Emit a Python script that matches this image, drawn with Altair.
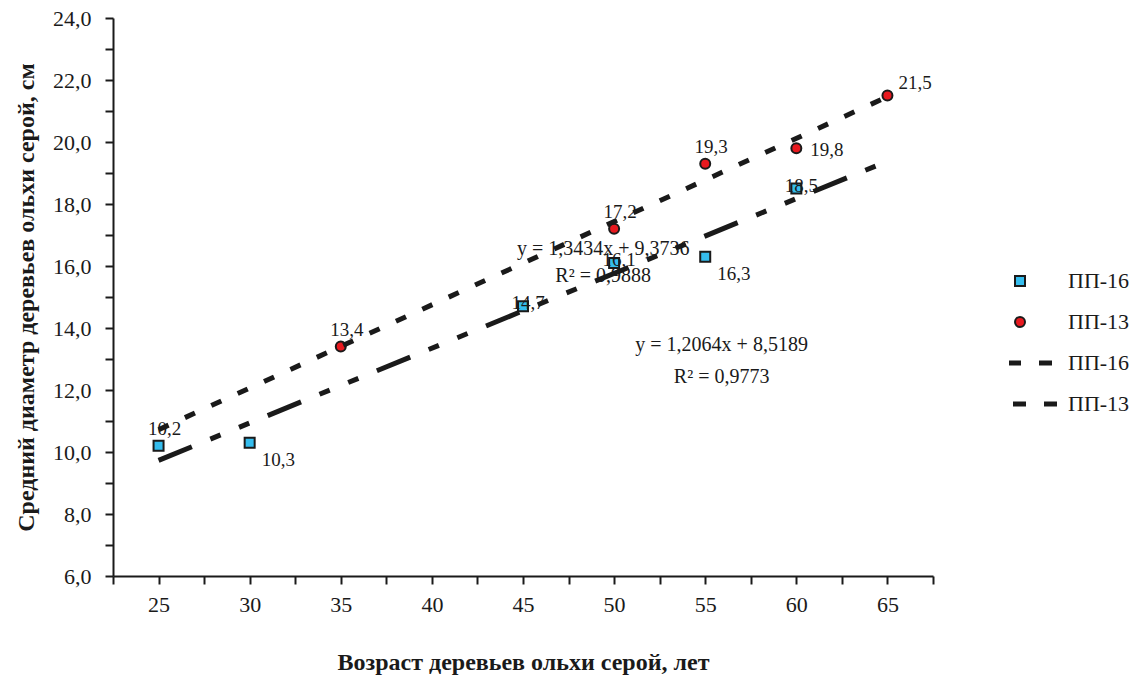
import altair as alt
import pandas as pd

# ---------------- data ----------------
age_16 = [25, 30, 45, 50, 55, 60]
diam_16 = [10.2, 10.3, 14.7, 16.1, 16.3, 18.5]
place_16 = ["above", "below_right", "on", "on", "below_right", "on"]

age_13 = [35, 50, 55, 60, 65]
diam_13 = [13.4, 17.2, 19.3, 19.8, 21.5]
place_13 = ["above", "above", "above", "right", "above_right"]

trend_age = [25, 65]
trend_16 = [9.73, 19.38]
trend_13 = [10.72, 21.46]

eq_text = ["y = 1,3434x + 9,3736", "R² = 0,9888", "y = 1,2064x + 8,5189", "R² = 0,9773"]
eq_age = [49.4, 49.4, 55.9, 55.9]
eq_diam = [16.55, 15.68, 13.45, 12.42]

x_ticks = [22.5, 25, 27.5, 30, 32.5, 35, 37.5, 40, 42.5, 45, 47.5, 50,
           52.5, 55, 57.5, 60, 62.5, 65, 67.5]
y_ticks = [6, 7, 8, 9, 10, 11, 12, 13, 14, 15, 16, 17, 18, 19, 20, 21, 22, 23, 24]

legend_names = ["ПП-16", "ПП-13", "ПП-16 ", "ПП-13 "]

# ---------------- tables ----------------
def lab(v):
    return f"{v:.1f}".replace(".", ",")

pts = pd.DataFrame(
    {"age": age_16, "diam": diam_16, "series": legend_names[0], "place": place_16,
     "label": [lab(v) for v in diam_16]}
)
pts = pd.concat([pts, pd.DataFrame(
    {"age": age_13, "diam": diam_13, "series": legend_names[1], "place": place_13,
     "label": [lab(v) for v in diam_13]}
)], ignore_index=True)

tr16 = pd.DataFrame({"age": trend_age, "diam": trend_16})
tr13 = pd.DataFrame({"age": trend_age, "diam": trend_13})
eqs = pd.DataFrame({"age": eq_age, "diam": eq_diam, "text": eq_text})

FONT = "Liberation Serif"
INK = "#1a1a1a"

# legend line symbols as custom paths (symbol size 100 -> 1 unit = 5 px)
path_16 = ("M-7.2,-0.3H0V0.3H-7.2Z "
           "M4.0,-0.3H6.2V0.3H4.0Z")
path_13 = ("M-7.2,-0.3H-5.0V0.3H-7.2Z "
           "M-1.2,-0.3H1.0V0.3H-1.2Z "
           "M5.0,-0.3H7.2V0.3H5.0Z")

x_axis = alt.Axis(
    values=x_ticks, labelExpr="datum.value % 5 == 0 ? datum.value : ''",
    title="Возраст деревьев ольхи серой, лет", grid=False,
    tickSize=8, tickWidth=2, domainWidth=2, domainColor=INK, tickColor=INK,
    labelFont=FONT, labelFontSize=22, labelColor=INK, labelPadding=10,
    labelOverlap=False, labelFlush=False,
    titleFont=FONT, titleFontSize=24, titleFontWeight="bold", titleColor=INK,
    titlePadding=35,
)
y_axis = alt.Axis(
    values=y_ticks,
    labelExpr="datum.value % 2 == 0 ? replace(format(datum.value, '.1f'), '.', ',') : ''",
    title="Средний диаметр деревьев ольхи серой, см", grid=False,
    tickSize=8, tickWidth=2, domainWidth=2, domainColor=INK, tickColor=INK,
    labelFont=FONT, labelFontSize=22, labelColor=INK, labelPadding=14,
    labelOverlap=False, labelFlush=False,
    titleFont=FONT, titleFontSize=24, titleFontWeight="bold", titleColor=INK,
    titlePadding=14,
)

X = alt.X("age:Q", scale=alt.Scale(domain=[22.5, 67.5], nice=False, zero=False), axis=x_axis)
Y = alt.Y("diam:Q", scale=alt.Scale(domain=[6, 24], nice=False, zero=False), axis=y_axis)

leg = alt.Legend(
    title=None, orient="none", legendX=896, legendY=253, padding=0,
    clipHeight=20, rowPadding=19, labelOffset=37, symbolSize=100,
    labelFont=FONT, labelFontSize=22, labelColor=INK,
    symbolStrokeColor=INK, symbolStrokeWidth=2,
)

points = alt.Chart(pts).mark_point(filled=True, opacity=1, strokeWidth=2,
                                   size=100).encode(
    x=X, y=Y,
    shape=alt.Shape("series:N", scale=alt.Scale(domain=legend_names,
                    range=["square", "circle", path_16, path_13]), legend=leg),
    fill=alt.Fill("series:N", scale=alt.Scale(domain=legend_names,
                  range=["#35bdee", "#e8191f", INK, INK]), legend=leg),
    stroke=alt.Stroke("series:N", scale=alt.Scale(domain=legend_names,
                      range=[INK, INK, INK, INK]), legend=leg),
)

def labels(place, align, dx, dy):
    return alt.Chart(pts).transform_filter(
        alt.datum.place == place
    ).mark_text(font=FONT, fontSize=19, color=INK, align=align, baseline="middle",
                dx=dx, dy=dy).encode(x=X, y=Y, text="label:N")

lab_layers = [
    labels("above", "center", 6, -17),
    labels("on", "center", 5, -3),
    labels("below_right", "left", 12, 17),
    labels("right", "left", 14, 2),
    labels("above_right", "left", 11, -13),
]

eq_layer = alt.Chart(eqs).mark_text(font=FONT, fontSize=20, color=INK, align="center",
                                    baseline="middle").encode(x=X, y=Y, text="text:N")

line16 = alt.Chart(tr16).mark_line(color=INK, strokeWidth=5, strokeCap="butt",
                                   strokeDash=[36, 20, 11, 20, 11, 20]).encode(x=X, y=Y)
line13 = alt.Chart(tr13).mark_line(color=INK, strokeWidth=5, strokeCap="butt",
                                   strokeDash=[11, 18]).encode(x=X, y=Y)

chart = alt.layer(points, *lab_layers, eq_layer, line16, line13).properties(
    width=820, height=558,
    autosize=alt.AutoSizeParams(type="none"),
    padding={"left": 113, "top": 18, "right": 203, "bottom": 110},
    background="white",
).configure_view(stroke=None)

chart.save("out.html", embed_options={"renderer": "svg", "actions": False})
